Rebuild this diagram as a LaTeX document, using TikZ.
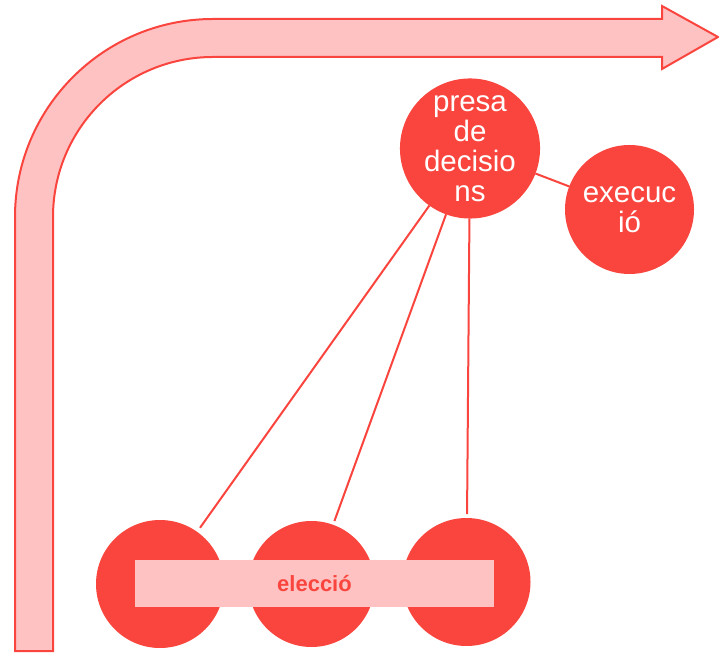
\documentclass[tikz,border=0pt]{standalone}
\usepackage{fontspec}
\setmainfont{Liberation Sans}
\definecolor{cred}{RGB}{249,69,62}
\definecolor{cpink}{RGB}{255,194,194}
\begin{document}
\begin{tikzpicture}[x=1pt,y=1pt,
  bigcirc/.style={circle,fill=cred,draw=none,minimum size=129pt,inner sep=0pt,outer sep=0pt,
    text=white,align=center,font=\fontsize{29.5}{30}\selectfont},
  conn/.style={draw=cred,line width=2pt},
  band/.style={fill=cpink,draw=cred,line width=2pt,line join=miter}]
\useasboundingbox (0,0) rectangle (719,653);
% bent arrow
\path[band] (15,2) -- (15,436) arc[start angle=180,end angle=90,radius=198]
  -- (662,634) -- (662,647) -- (718,616) -- (662,584) -- (662,596) -- (213,596)
  arc[start angle=90,end angle=180,radius=160] -- (53,2) -- cycle;
% circles
\node[bigcirc,minimum size=130pt] (p) at (470,504.5) {presa\\de\\decisio\\ns};
\node[bigcirc] (e) at (629.5,443.5) {execuc\\ió};
\node[bigcirc,minimum size=128pt] (c1) at (160,69) {};
\node[bigcirc,minimum size=126pt] (c2) at (311.5,69) {};
\node[bigcirc,minimum size=128pt] (c3) at (466.5,71) {};
% connectors
\draw[conn,shorten >=5pt] (p) -- (c1);
\draw[conn,shorten >=4pt] (p) -- (c2);
\draw[conn,shorten >=4pt] (p) -- (c3);
\draw[conn] (p) -- (e);
% label bar
\node[fill=cpink,draw=none,minimum width=359pt,minimum height=47pt,inner sep=0pt,
  text=cred,font=\fontsize{22}{24}\selectfont\bfseries] (el) at (314.5,69.5) {elecció};
\end{tikzpicture}
\end{document}
